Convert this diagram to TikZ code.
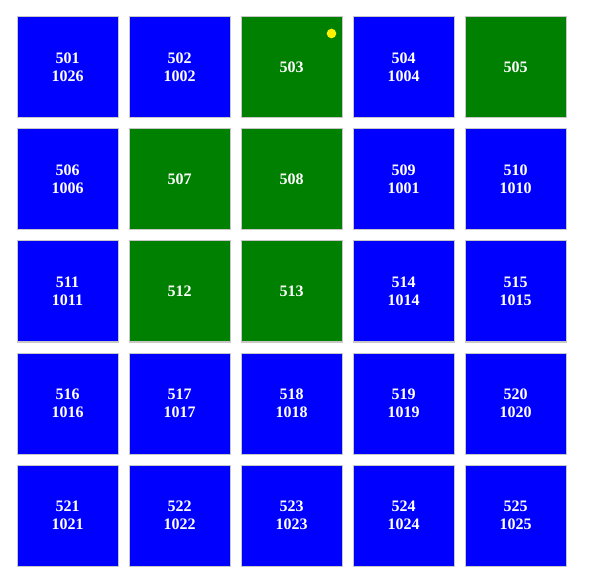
\documentclass[tikz,border=0pt]{standalone}
\usepackage{fontspec}
\setmainfont{Liberation Serif}
\tikzset{
  cell/.style={draw=black!22, line width=0.75pt, minimum size=75.75pt, inner sep=0pt,
    text=white, align=center, font=\fontsize{12pt}{13.5pt}\selectfont\bfseries},
  free/.style={cell, fill=blue},
  taken/.style={cell, fill=green!50!black},
}
\begin{document}
\begin{tikzpicture}[x=0.75pt,y=-0.75pt]
  \useasboundingbox (0,0) rectangle (592,584);
  % grid of cells: number / second line / style
  \foreach \n/\m/\s [count=\k from 0] in {
      501/1026/free, 502/1002/free, 503//taken, 504/1004/free, 505//taken,
      506/1006/free, 507//taken, 508//taken, 509/1001/free, 510/1010/free,
      511/1011/free, 512//taken, 513//taken, 514/1014/free, 515/1015/free,
      516/1016/free, 517/1017/free, 518/1018/free, 519/1019/free, 520/1020/free,
      521/1021/free, 522/1022/free, 523/1023/free, 524/1024/free, 525/1025/free} {
    \pgfmathtruncatemacro{\col}{mod(\k,5)}
    \pgfmathtruncatemacro{\row}{div(\k,5)}
    \node[\s] (c\n) at ({67.5+112*\col},{67.5+112*\row}) {\n\ifx\m\empty\else\\\m\fi};
  }
  % marker
  \fill[yellow] ([xshift=-11*0.75pt,yshift=-17*0.75pt]c503.north east) circle (3.6pt);
\end{tikzpicture}
\end{document}
